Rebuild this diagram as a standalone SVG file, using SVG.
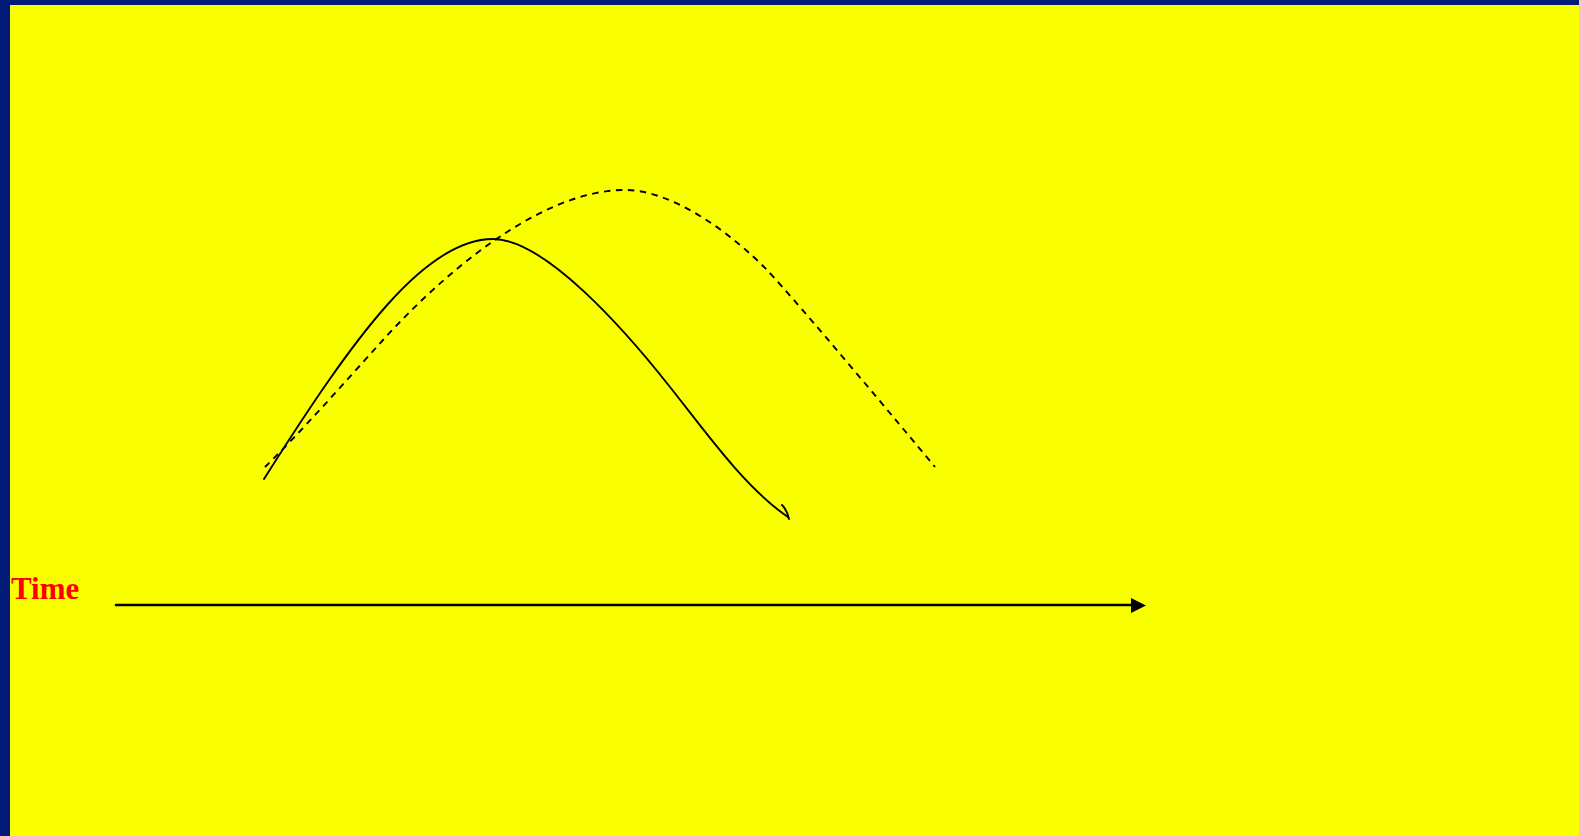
<svg xmlns="http://www.w3.org/2000/svg" width="1579" height="836" viewBox="0 0 1579 836">
  <defs>
    <style>
      .ln { fill: none; stroke: #000; stroke-linecap: round; stroke-linejoin: round; }
      .solid { stroke-width: 1.9; }
      .dash { stroke-width: 1.9; stroke-dasharray: 6.5 5.5; stroke-linecap: butt; }
      .axis { stroke-width: 2.6; }
      .label { font-family: "Liberation Serif", "Times New Roman", serif; font-weight: bold; font-size: 31px; fill: #FF0000; }
    </style>
  </defs>
  <rect x="0" y="0" width="1579" height="836" fill="#001C78"/>
  <rect x="10" y="5" width="1569" height="831" fill="#FAFF00"/>

  <g id="label-time">
    <text class="label" x="11" y="599">Time</text>
  </g>

  <g id="curve-solid">
    <path class="ln solid" d="M264,479 C355,335 425,239 493,239 C545,239 625,330 670,387 C705,431 745,488 788,517"/>
    <path class="ln solid" d="M782,505 Q787,510 789,519"/>
  </g>

  <g id="curve-dashed">
    <path class="ln dash" d="M265,467 C300,433 345,382 383,340 C443,274 540,190 625,190 C675,190 735,237 767,270 C800,305 900,425 935,467"/>
  </g>

  <g id="connectors">
    <line class="ln axis" x1="116" y1="605" x2="1133" y2="605"/>
    <polygon points="1131,598 1146,605.5 1131,613" fill="#000"/>
  </g>
</svg>
